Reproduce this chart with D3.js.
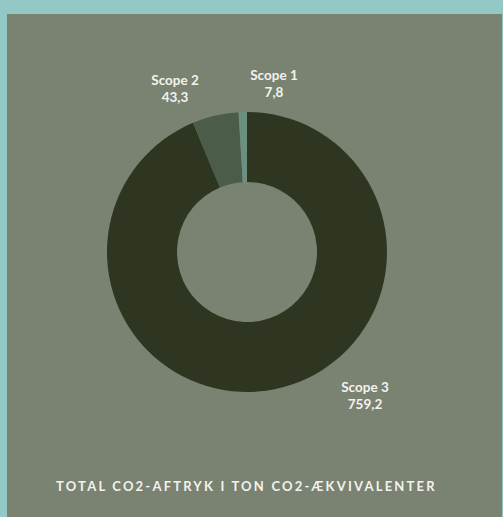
<!DOCTYPE html>
<html>
<head>
<meta charset="utf-8">
<script src="https://cdn.jsdelivr.net/npm/d3@7"></script>
<style>
  html, body { margin: 0; padding: 0; background: #93c8c6; }
  svg { display: block; }
</style>
</head>
<body>
<div id="chart"></div>
<script>
//
// Donut chart: total CO2 footprint by scope
//

// data, in clockwise order from 12 o'clock
var categories = ["Scope 3", "Scope 2", "Scope 1"];
var values = [759.2, 43.3, 7.8];
var title = "TOTAL CO2-AFTRYK I TON CO2-ÆKVIVALENTER";

// styles
var colors = ["#2e3622", "#4b5c48", "#6a9080"];
var panelColor = "#7a8271";
var borderColor = "#93c8c6";
var textColor = "#f2f2ee";

// label offsets relative to donut centre (first line baseline)
var labelPos = {
    "Scope 3": [118, 140],
    "Scope 2": [-72, -167],
    "Scope 1": [27, -172]
};

function drawDonut(divName, width, height) {
    var cx = 247;
    var cy = 252;
    var outerR = 140;
    var innerR = 70;

    var svg = d3.select("#" + divName)
        .append("svg")
        .attr("width", width)
        .attr("height", height);

    // panel (teal border shows on top, left and a thin line on the right)
    svg.append("rect")
        .attr("x", 0).attr("y", 0)
        .attr("width", width).attr("height", height)
        .attr("fill", borderColor);
    svg.append("rect")
        .attr("x", 7).attr("y", 14)
        .attr("width", width - 8).attr("height", height - 14)
        .attr("fill", panelColor);

    var data = categories.map(function (c, i) { return { name: c, value: values[i], color: colors[i] }; });

    var pie = d3.pie()
        .sort(null)
        .value(function (d) { return d.value; });

    var arc = d3.arc()
        .innerRadius(innerR)
        .outerRadius(outerR);

    var g = svg.append("g")
        .attr("transform", "translate(" + cx + "," + cy + ")");

    g.selectAll("path")
        .data(pie(data))
        .enter()
        .append("path")
        .attr("d", arc)
        .attr("fill", function (d) { return d.data.color; });

    var fmt = function (v) { return d3.format(".1f")(v).replace(".", ","); };

    // labels
    var labels = g.selectAll(".lbl")
        .data(data)
        .enter()
        .append("text")
        .attr("class", "lbl")
        .attr("text-anchor", "middle")
        .style("font-family", "Lato, 'Open Sans', sans-serif")
        .style("font-weight", "700")
        .style("font-size", "13.5px")
        .attr("fill", textColor);

    labels.append("tspan")
        .attr("x", function (d) { return labelPos[d.name][0]; })
        .attr("y", function (d) { return labelPos[d.name][1]; })
        .text(function (d) { return d.name; });

    labels.append("tspan")
        .attr("x", function (d) { return labelPos[d.name][0]; })
        .attr("y", function (d) { return labelPos[d.name][1] + 16.5; })
        .text(function (d) { return fmt(d.value); });

    // title
    svg.append("text")
        .attr("x", 56)
        .attr("y", 491)
        .style("font-family", "Lato, 'Open Sans', sans-serif")
        .style("font-weight", "700")
        .style("font-size", "13px")
        .style("letter-spacing", "2.2px")
        .attr("fill", textColor)
        .text(title);

    return svg;
}

drawDonut("chart", 503, 517);
</script>
</body>
</html>
